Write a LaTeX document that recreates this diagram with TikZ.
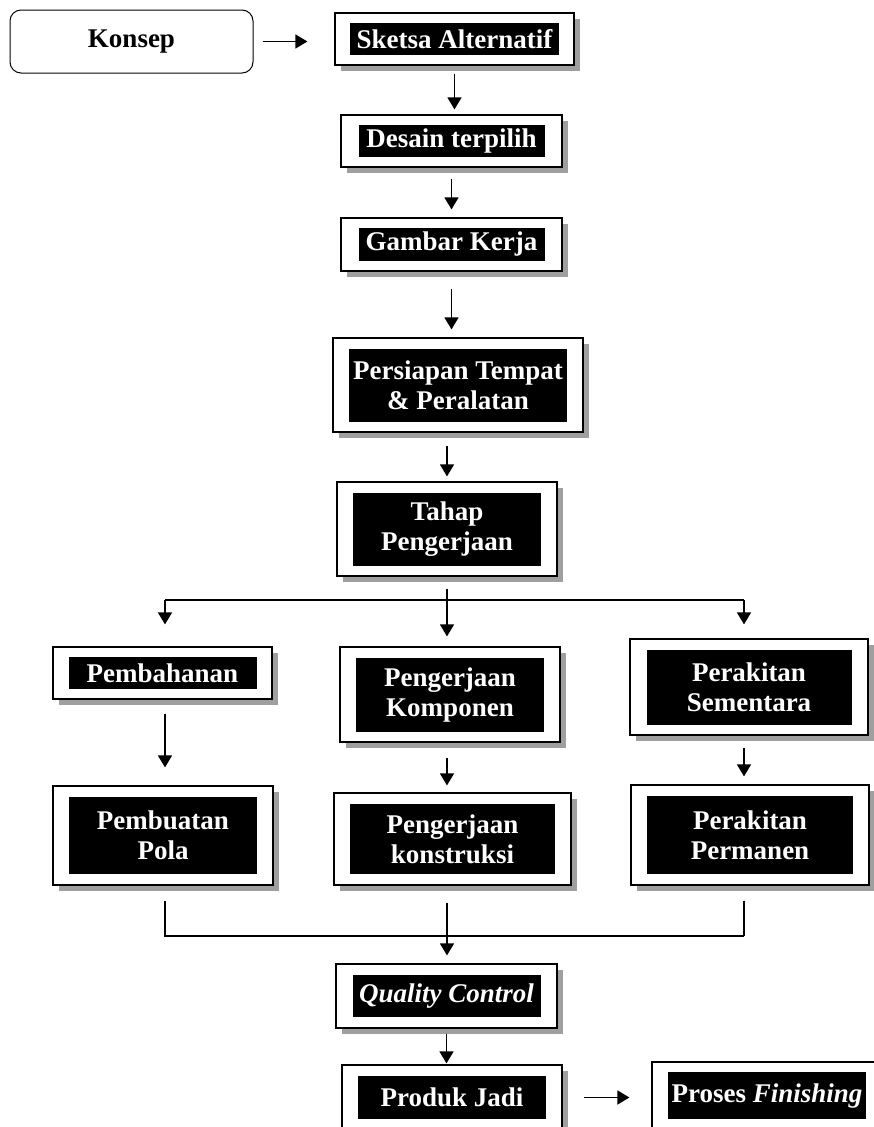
\documentclass[tikz,border=0pt]{standalone}
\usepackage{fontspec}
\setmainfont{Liberation Serif}
\usetikzlibrary{arrows.meta,shadows}

\begin{document}
\begin{tikzpicture}[x=1pt, y=-1pt,
	frame/.style={draw, fill=white, line width=1.2pt, inner sep=0pt,
		drop shadow={shadow xshift=6pt, shadow yshift=-6pt, fill=gray!75, opacity=1}},
	plate/.style={fill=black, text=white, inner sep=0pt, align=center,
		font={\fontsize{27}{30}\selectfont\bfseries}},
	link/.style={line width=1.5pt},
	arr/.style={link, -{Triangle[length=12pt, width=14pt]}}]
	\path[use as bounding box, fill=white] (0,0) rectangle (873,1127);

	\node[draw, rounded corners=11pt, line width=1pt, minimum width=243pt, minimum height=63pt,
		font={\fontsize{27}{30}\selectfont\bfseries}] (konsep) at (131.5, 41.5) {Konsep};

	\node[frame, minimum width=239pt, minimum height=52pt] (sketsa) at (454.5, 39) {};
	\node[frame, minimum width=221pt, minimum height=52pt] (desain) at (451.5, 141) {};
	\node[frame, minimum width=221pt, minimum height=53pt] (gambar) at (451.5, 244.5) {};
	\node[frame, minimum width=250pt, minimum height=94pt] (persiapan) at (458, 385) {};
	\node[frame, minimum width=220pt, minimum height=94pt] (tahap) at (447, 529) {};
	\node[frame, minimum width=219pt, minimum height=52pt] (bahan) at (162.5, 673) {};
	\node[frame, minimum width=220pt, minimum height=95pt] (komponen) at (450, 694.5) {};
	\node[frame, minimum width=238pt, minimum height=96pt] (sementara) at (749, 687) {};
	\node[frame, minimum width=220pt, minimum height=99pt] (pola) at (163, 835.5) {};
	\node[frame, minimum width=237pt, minimum height=92pt] (konstruksi) at (452.5, 839) {};
	\node[frame, minimum width=238pt, minimum height=100pt] (permanen) at (750, 835) {};
	\node[frame, minimum width=221pt, minimum height=64pt] (qc) at (446.5, 996) {};
	\node[frame, minimum width=220pt, minimum height=65pt] (produk) at (452, 1097.5) {};
	\node[frame, minimum width=230pt, minimum height=67pt] (finishing) at (767, 1095.5) {};

	\node[plate, minimum width=209pt, minimum height=32pt] (sketsa2) at (sketsa) {Sketsa Alternatif};
	\node[plate, minimum width=186pt, minimum height=32pt] (desain2) at (desain) {Desain terpilih};
	\node[plate, minimum width=186pt, minimum height=33pt] (gambar2) at (gambar) {Gambar Kerja};
	\node[plate, minimum width=218pt, minimum height=73pt] (persiapan2) at (persiapan) {Persiapan Tempat\\ \& Peralatan};
	\node[plate, minimum width=188pt, minimum height=73pt] (tahap2) at (tahap) {Tahap\\ Pengerjaan};
	\node[plate, minimum width=188pt, minimum height=32pt] (bahan2) at (bahan) {Pembahanan};
	\node[plate, minimum width=188pt, minimum height=74pt] (komponen2) at (komponen) {Pengerjaan\\ Komponen};
	\node[plate, minimum width=205pt, minimum height=75pt] (sementara2) at (sementara) {Perakitan\\ Sementara};
	\node[plate, minimum width=188pt, minimum height=77pt] (pola2) at (pola) {Pembuatan\\ Pola};
	\node[plate, minimum width=205pt, minimum height=70pt] (konstruksi2) at (konstruksi) {Pengerjaan\\ konstruksi};
	\node[plate, minimum width=206pt, minimum height=78pt] (permanen2) at (permanen) {Perakitan\\ Permanen};
	\node[plate, minimum width=188pt, minimum height=42pt] (qc2) at (qc) {\itshape Quality Control};
	\node[plate, minimum width=188pt, minimum height=43pt] (produk2) at (produk) {Produk Jadi};
	\node[plate, minimum width=198pt, minimum height=47pt] (finishing2) at (finishing) {Proses \textit{Finishing}};

	\coordinate (splitL) at (165, 600);
	\coordinate (splitR) at (744, 600);
	\coordinate (mergeL) at (165, 936);
	\coordinate (mergeR) at (744, 936);

	\draw[arr, shorten <=9pt, shorten >=27pt] (konsep.east) -- (konsep.east -| sketsa.west);
	\draw[arr, shorten <=8pt, shorten >=5pt] (sketsa.south) -- (sketsa.south |- desain.north);
	\draw[arr, shorten <=11pt, shorten >=8pt] (desain.south) -- (desain.south |- gambar.north);
	\draw[arr, shorten <=17pt, shorten >=8pt] (gambar.south) -- (gambar.south |- persiapan.north);
	\draw[arr, shorten <=13pt, shorten >=5pt] (persiapan.south -| tahap) -- (tahap.north);

	\draw[arr, shorten <=12pt, shorten >=10pt] (tahap.south) -- (tahap.south |- komponen.north);
	\draw[link] (splitL) -- (splitR);
	\draw[arr, shorten >=22pt] (splitL) -- (splitL |- bahan.north);
	\draw[arr, shorten >=14pt] (splitR) -- (splitR |- sementara.north);

	\draw[arr, shorten <=14pt, shorten >=18pt] (bahan.south -| splitL) -- (splitL |- pola.north);
	\draw[arr, shorten <=15pt, shorten >=7pt] (komponen.south -| tahap) -- (tahap |- konstruksi.north);
	\draw[arr, shorten <=12pt, shorten >=8pt] (sementara.south -| splitR) -- (splitR |- permanen.north);

	\draw[link, shorten <=15pt] (pola.south -| mergeL) |- (mergeR);
	\draw[link, shorten <=15pt] (permanen.south -| mergeR) -- (mergeR);
	\draw[arr, shorten <=17pt, shorten >=8pt] (konstruksi.south -| tahap) -- (tahap |- qc.north);
	\draw[arr, shorten <=5pt, shorten >=1pt] (qc.south) -- (qc.south |- produk.north);
	\draw[arr, shorten <=21pt, shorten >=22pt] (produk.east) -- (produk.east -| finishing.west);
\end{tikzpicture}
\end{document}
